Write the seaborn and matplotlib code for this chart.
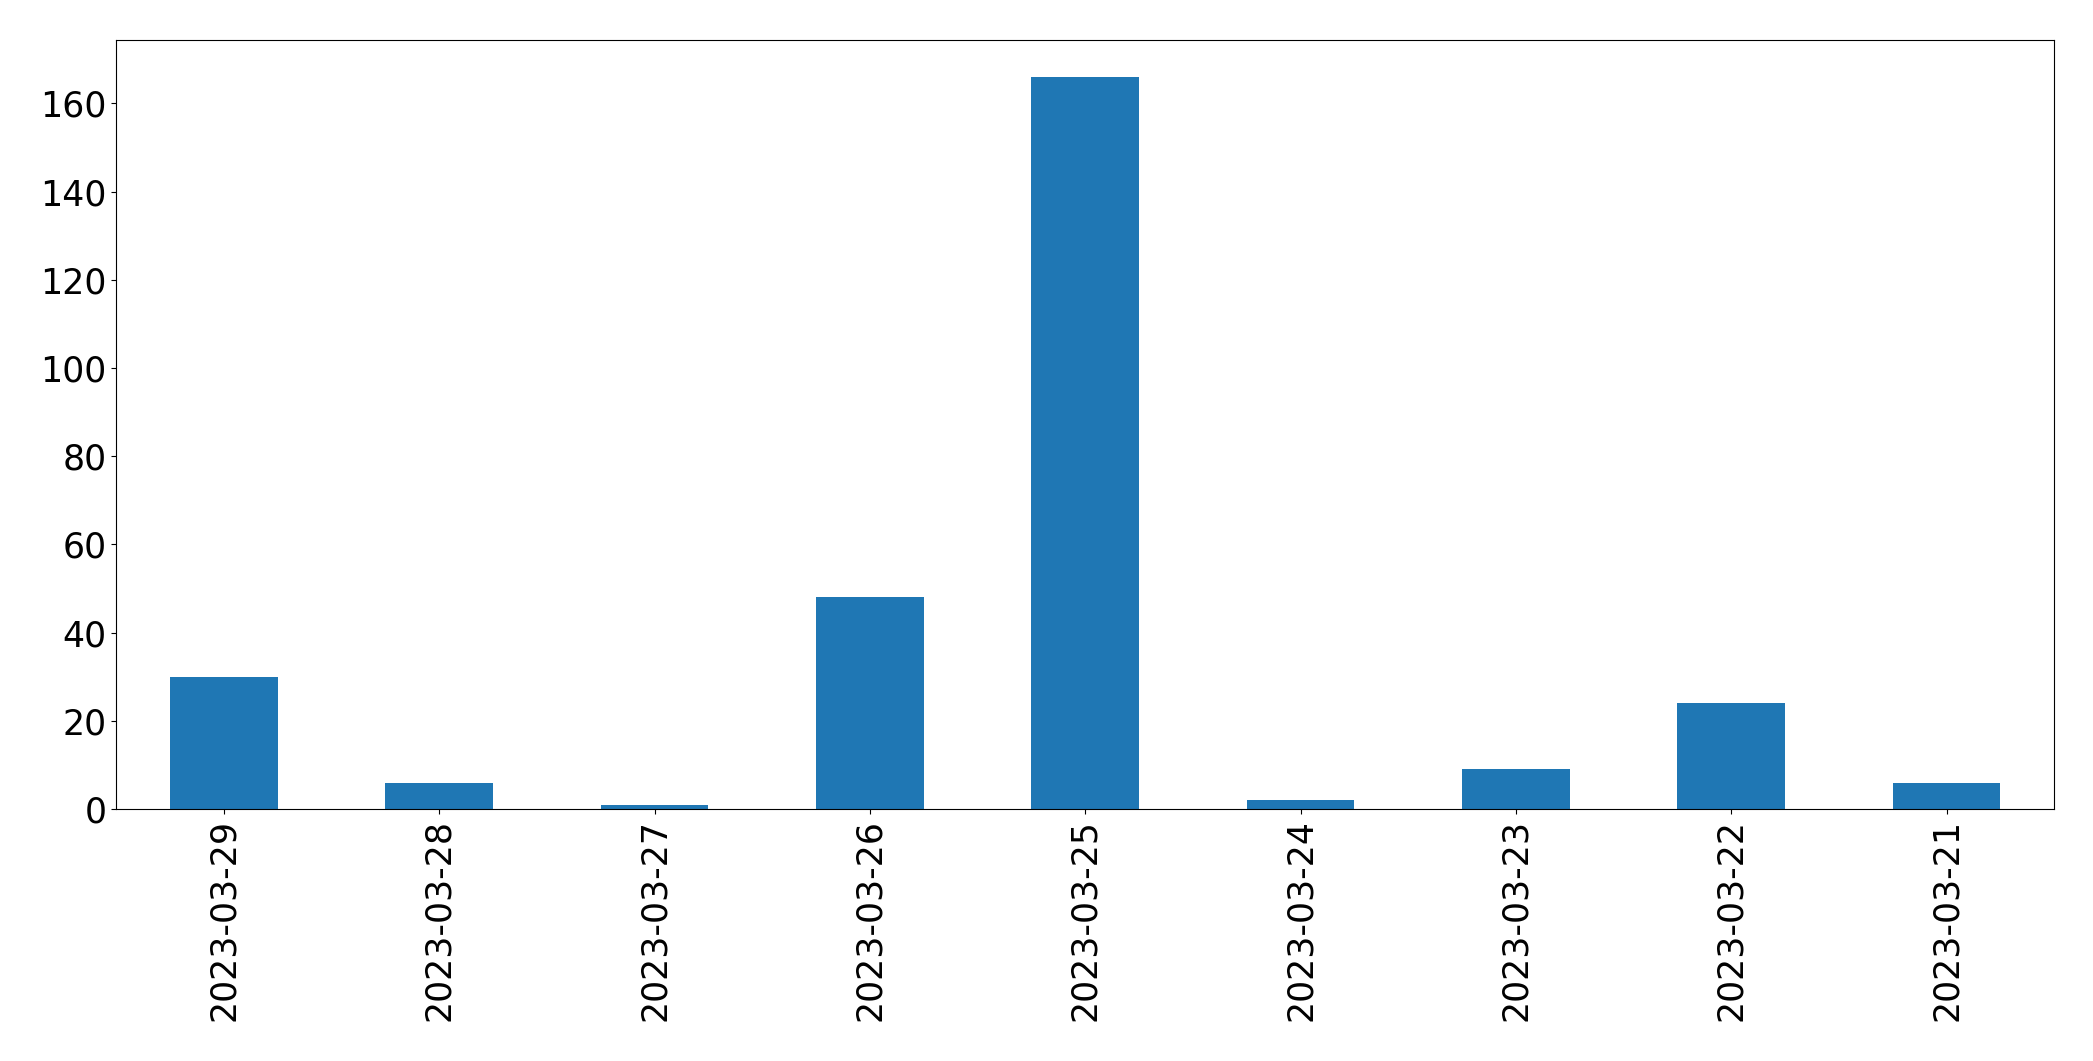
import matplotlib
matplotlib.use("Agg")
import matplotlib.pyplot as plt
import seaborn as sns
import pandas as pd

dates = [
    "2023-03-29", "2023-03-28", "2023-03-27", "2023-03-26", "2023-03-25",
    "2023-03-24", "2023-03-23", "2023-03-22", "2023-03-21",
]
counts = [30, 6, 1, 48, 166, 2, 9, 24, 6]


def main():
    df = pd.DataFrame({"date": dates, "count": counts})

    fig, ax = plt.subplots(figsize=(20.93, 10.61), dpi=100)
    fig.subplots_adjust(left=0.0555, right=0.9815, top=0.962, bottom=0.2375)

    sns.barplot(data=df, x="date", y="count", order=dates, color="#1f77b4",
                saturation=1, width=0.5, ax=ax)
    ax.set_xlim(-0.5, len(dates) - 0.5)
    ax.set_xlabel("")
    ax.set_ylabel("")
    ax.tick_params(axis="both", labelsize=25)
    ax.tick_params(axis="x", labelrotation=90)
    for spine in ax.spines.values():
        spine.set_color("black")

    fig.savefig("out.png", dpi=100)
    plt.close(fig)


if __name__ == "__main__":
    main()
